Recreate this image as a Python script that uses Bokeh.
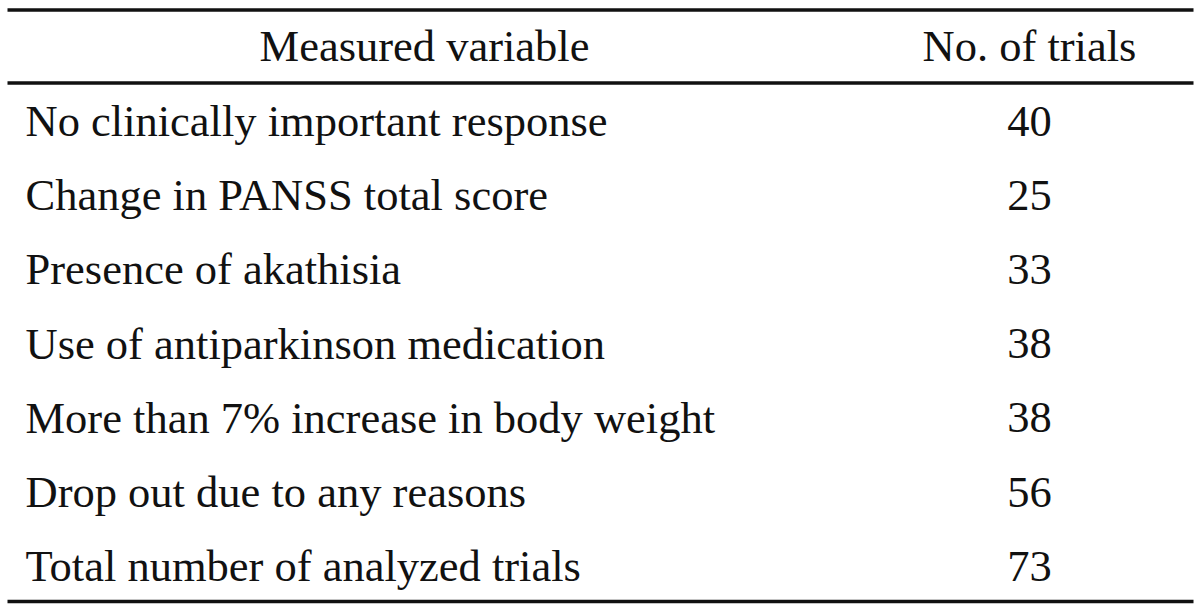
from bokeh.plotting import figure
from bokeh.models import Range1d, ColumnDataSource
from bokeh.core.properties import value
from bokeh.embed import file_html
from bokeh.resources import INLINE

# ---- data ----
header = ["Measured variable", "No. of trials"]
variables = [
    "No clinically important response",
    "Change in PANSS total score",
    "Presence of akathisia",
    "Use of antiparkinson medication",
    "More than 7% increase in body weight",
    "Drop out due to any reasons",
    "Total number of analyzed trials",
]
trials = [40, 25, 33, 38, 38, 56, 73]

# ---- layout (page-pixel data space; Bokeh's page template has no body margin) ----
W, H = 1200, 612
FONT = "Liberation Serif"
FS = "44.5px"
BASE_FIX = 14.5           # bokeh places alphabetic baseline this much lower
ROW0, PITCH = 135, 74.2   # baseline of first row, row pitch
HEADER_Y = 60
LEFT_X = 25
COL1_CX = 424
COL2_CX = 1029
X0, X1 = 7, 1193

p = figure(width=W, height=H, output_backend="svg", toolbar_location=None,
           x_range=Range1d(0, W), y_range=Range1d(H, 0),
           min_border=0)
p.axis.visible = False
p.grid.visible = False
p.outline_line_color = None
p.background_fill_color = "white"
p.border_fill_color = "white"

ys = [ROW0 + i * PITCH - BASE_FIX for i in range(len(variables))]
src = ColumnDataSource(dict(y=ys, var=variables, n=[str(t) for t in trials],
                            lx=[LEFT_X] * len(ys), rx=[COL2_CX] * len(ys)))

p.text(x="lx", y="y", text="var", source=src, text_font=value(FONT),
       text_font_size=FS, text_align="left", text_baseline="alphabetic",
       text_color="#111111")
p.text(x="rx", y="y", text="n", source=src, text_font=value(FONT),
       text_font_size=FS, text_align="center", text_baseline="alphabetic",
       text_color="#111111")
p.text(x=[COL1_CX, COL2_CX], y=[HEADER_Y - BASE_FIX] * 2, text=header,
       text_font=value(FONT), text_font_size=FS, text_align="center",
       text_baseline="alphabetic", text_color="#111111")

for yy in (9.5, 82.5, 601):
    p.segment(x0=[X0], y0=[yy], x1=[X1], y1=[yy], line_color="#111111",
              line_width=3.5)

open("out.html", "w").write(file_html(p, INLINE))
